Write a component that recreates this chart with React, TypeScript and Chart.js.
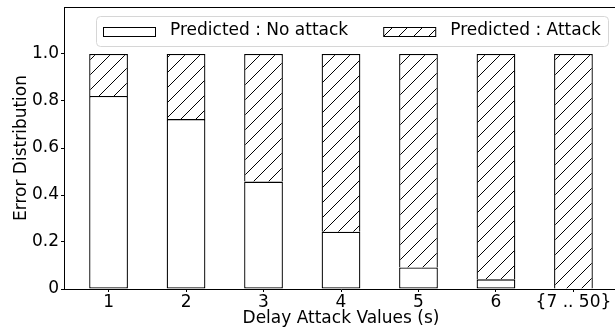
import React, { useEffect, useRef } from 'react';
import { Chart, registerables } from 'chart.js';

Chart.register(...registerables);

// ---- data ----
const categories = ['1', '2', '3', '4', '5', '6', '{7 .. 50}'];
const noAttack = [0.821, 0.723, 0.457, 0.244, 0.092, 0.041, 0];
const attack = [0.179, 0.277, 0.543, 0.756, 0.908, 0.959, 1.0];
const yTicks = [0, 0.2, 0.4, 0.6, 0.8, 1.0];
const seriesLabels = ['Predicted : No attack', 'Predicted : Attack'];
const xTitle = 'Delay Attack Values (s)';
const yTitle = 'Error Distribution';

const FONT = '"DejaVu Sans", "Noto Sans", sans-serif';

function makeHatch(): CanvasPattern | string {
  const s = 15;
  const c = document.createElement('canvas');
  c.width = s;
  c.height = s;
  const g = c.getContext('2d');
  if (!g) return '#fff';
  g.fillStyle = '#fff';
  g.fillRect(0, 0, s, s);
  g.strokeStyle = '#000';
  g.lineWidth = 1;
  g.beginPath();
  g.moveTo(-1, s + 1);
  g.lineTo(s + 1, -1);
  g.moveTo(-1, 1);
  g.lineTo(1, -1);
  g.moveTo(s - 1, s + 1);
  g.lineTo(s + 1, s - 1);
  g.stroke();
  return g.createPattern(c, 'repeat') || '#fff';
}

const framePlugin = {
  id: 'frame',
  afterDraw(chart: any) {
    const { ctx, chartArea: a } = chart;
    ctx.save();
    ctx.strokeStyle = '#000';
    ctx.lineWidth = 1;
    ctx.beginPath();
    const t = Math.round(a.top) + 0.5;
    ctx.moveTo(a.left, t);
    ctx.lineTo(a.right, t);
    ctx.moveTo(Math.round(a.right) + 0.5, a.top);
    ctx.lineTo(Math.round(a.right) + 0.5, a.bottom);
    ctx.stroke();
    ctx.restore();
  },
};

const legendPlugin = {
  id: 'insideLegend',
  afterDraw(chart: any) {
    const { ctx, chartArea: a } = chart;
    const datasets = chart.data.datasets;
    ctx.save();
    ctx.font = `17px ${FONT}`;
    const pad = 7;
    const patchW = 52;
    const patchH = 9;
    const gapText = 15;
    const colGap = 35;
    const h = 30;
    const widths = datasets.map((d: any) => ctx.measureText(d.label).width);
    let total = pad * 2 + colGap * (datasets.length - 1);
    widths.forEach((w: number) => (total += patchW + gapText + w));
    const right = Math.round(a.right - 10);
    const top = Math.round(a.top + 9);
    const left = Math.round(right - total);
    // box
    const r = 4;
    ctx.beginPath();
    const x0 = left + 0.5, y0 = top + 0.5, x1 = right + 0.5, y1 = top + h + 0.5;
    ctx.moveTo(x0 + r, y0);
    ctx.lineTo(x1 - r, y0);
    ctx.quadraticCurveTo(x1, y0, x1, y0 + r);
    ctx.lineTo(x1, y1 - r);
    ctx.quadraticCurveTo(x1, y1, x1 - r, y1);
    ctx.lineTo(x0 + r, y1);
    ctx.quadraticCurveTo(x0, y1, x0, y1 - r);
    ctx.lineTo(x0, y0 + r);
    ctx.quadraticCurveTo(x0, y0, x0 + r, y0);
    ctx.closePath();
    ctx.fillStyle = 'rgba(255,255,255,0.8)';
    ctx.fill();
    ctx.strokeStyle = '#d6d6d6';
    ctx.lineWidth = 1;
    ctx.stroke();
    // items
    let x = left + pad;
    const cy = top + h / 2;
    datasets.forEach((d: any, i: number) => {
      const py = Math.round(top + 11);
      ctx.fillStyle = d.backgroundColor;
      ctx.fillRect(x, py, patchW, patchH);
      ctx.strokeStyle = '#000';
      ctx.lineWidth = 1;
      ctx.strokeRect(x + 0.5, py + 0.5, patchW, patchH);
      x += patchW + gapText;
      ctx.fillStyle = '#000';
      ctx.textAlign = 'left';
      ctx.textBaseline = 'middle';
      ctx.fillText(d.label, x, cy);
      x += widths[i] + colGap;
    });
    ctx.restore();
  },
};

export default function App() {
  const ref = useRef<HTMLCanvasElement>(null);

  useEffect(() => {
    if (!ref.current) return;
    const hatch = makeHatch();
    const chart = new Chart(ref.current, {
      type: 'bar',
      data: {
        datasets: [
          {
            label: seriesLabels[0],
            data: categories.map((_, i) => ({ x: i, y: noAttack[i] })),
            backgroundColor: '#ffffff',
            borderColor: '#000',
            borderWidth: 1.3,
            borderSkipped: false,
            barPercentage: 0.5,
            categoryPercentage: 1,
          },
          {
            label: seriesLabels[1],
            data: categories.map((_, i) => ({ x: i, y: attack[i] })),
            backgroundColor: hatch as any,
            borderColor: '#000',
            borderWidth: 1.3,
            borderSkipped: 'start',
            barPercentage: 0.5,
            categoryPercentage: 1,
          },
        ] as any,
      },
      options: {
        animation: false,
        responsive: false,
        devicePixelRatio: 1,
        layout: { padding: { top: 7, right: 12, left: 0, bottom: 0 } },
        font: { family: FONT, size: 17 } as any,
        color: '#000',
        plugins: {
          legend: { display: false },
          tooltip: { enabled: false },
        },
        scales: {
          x: {
            type: 'linear',
            stacked: true,
            offset: false,
            min: -0.575,
            max: 6.575,
            afterBuildTicks: (s: any) => {
              s.ticks = categories.map((_, i) => ({ value: i }));
            },
            afterFit: (s: any) => {
              s.height = 40;
              s.paddingLeft = 0;
              s.paddingRight = 0;
            },
            ticks: {
              autoSkip: false,
              maxRotation: 0,
              padding: 0,
              color: '#000',
              font: { family: FONT, size: 17 },
              callback: (v: any) => categories[v as number] ?? '',
            },
            grid: {
              display: true,
              offset: false,
              drawOnChartArea: false,
              drawTicks: true,
              tickLength: 3,
              color: '#000',
              lineWidth: 1,
            },
            border: { display: true, color: '#000', width: 1 },
            title: {
              display: true,
              text: xTitle,
              color: '#000',
              font: { family: FONT, size: 17 },
              padding: { top: 0, bottom: 0 },
            },
          },
          y: {
            type: 'linear',
            stacked: true,
            min: 0,
            max: 1.2,
            afterBuildTicks: (s: any) => {
              s.ticks = yTicks.map((v) => ({ value: v }));
            },
            afterFit: (s: any) => {
              s.width = 64;
              s.paddingTop = 0;
              s.paddingBottom = 0;
            },
            ticks: {
              padding: 2,
              color: '#000',
              font: { family: FONT, size: 17 },
              callback: (v: any) => (v === 0 ? '0' : Number(v).toFixed(1)),
            },
            grid: {
              display: true,
              drawOnChartArea: false,
              drawTicks: true,
              tickLength: 3,
              color: '#000',
              lineWidth: 1,
            },
            border: { display: true, color: '#000', width: 1 },
            title: {
              display: true,
              text: yTitle,
              color: '#000',
              font: { family: FONT, size: 17 },
              padding: { top: 11, bottom: 0 },
            },
          },
        },
      } as any,
      plugins: [framePlugin, legendPlugin],
    });
    return () => chart.destroy();
  }, []);

  return (
    <div
      style={{
        position: 'fixed',
        left: 0,
        top: 0,
        width: 615,
        height: 329,
        overflow: 'hidden',
        background: '#fff',
      }}
    >
      <canvas ref={ref} width={630} height={329} style={{ display: 'block', width: 630, height: 329 }} />
    </div>
  );
}
